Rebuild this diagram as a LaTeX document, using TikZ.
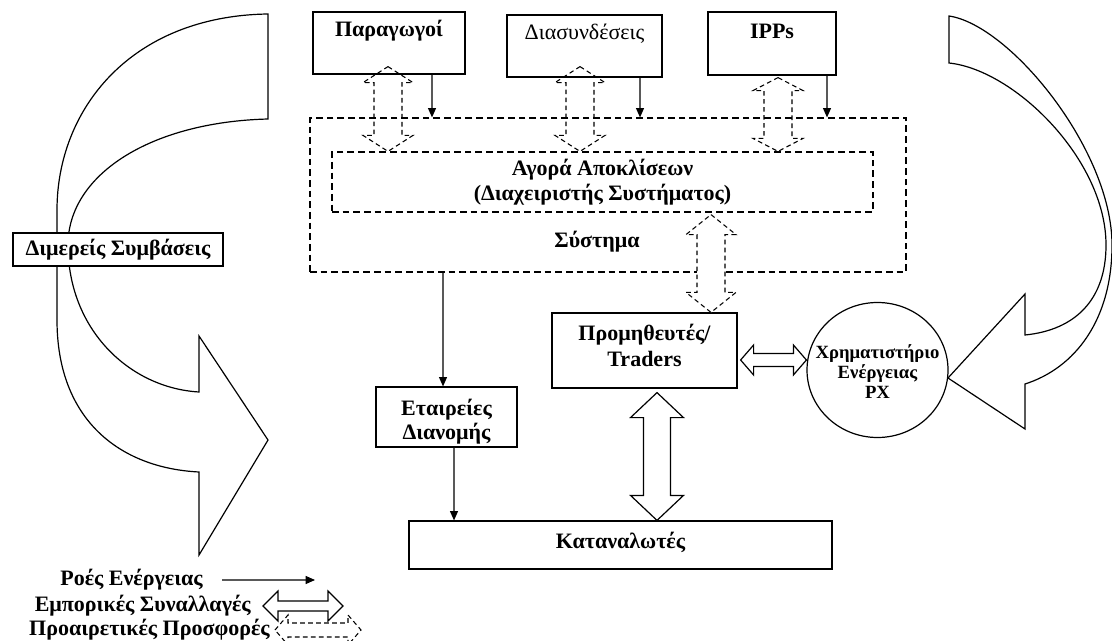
\documentclass[tikz,border=0pt]{standalone}
\usepackage{fontspec}
\setmainfont{Liberation Serif}
\usetikzlibrary{arrows.meta,shapes.geometric,calc,fit}

% vertical double block arrow: style, top tip, bottom tip, head length, head half-width, shaft half-width
\newcommand\vdbl[6]{%
  \draw[#1] (#2) -- ($(#2)+(#5,#4)$) -- ($(#2)+(#6,#4)$) -- ($(#3)+(#6,-#4)$) -- ($(#3)+(#5,-#4)$) -- (#3)
    -- ($(#3)+(-#5,-#4)$) -- ($(#3)+(-#6,-#4)$) -- ($(#2)+(-#6,#4)$) -- ($(#2)+(-#5,#4)$) -- cycle;}
% horizontal double block arrow: style, left tip, right tip, head length, head half-width, shaft half-width
\newcommand\hdbl[6]{%
  \draw[#1] (#2) -- ($(#2)+(#4,-#5)$) -- ($(#2)+(#4,-#6)$) -- ($(#3)+(-#4,-#6)$) -- ($(#3)+(-#4,-#5)$) -- (#3)
    -- ($(#3)+(-#4,#5)$) -- ($(#3)+(-#4,#6)$) -- ($(#2)+(#4,#6)$) -- ($(#2)+(#4,#5)$) -- cycle;}

\begin{document}
\begin{tikzpicture}[x=0.75pt,y=-0.75pt,
  box/.style={draw, line width=0.9pt, inner sep=0pt, fill=white},
  dbox/.style={draw, line width=0.9pt, inner sep=0pt, dash pattern=on 5pt off 3pt},
  txt/.style={font=\bfseries\fontsize{16.5}{19}\selectfont, inner sep=0pt, align=center},
  flow/.style={draw=black!65, line width=0.8pt, -{Triangle[length=7pt,width=6pt,color=black]}},
  blk/.style={draw, line width=0.9pt, fill=white, line join=miter},
  dblk/.style={draw, line width=0.8pt, dash pattern=on 3.5pt off 2.5pt},
  bigarrow/.style={draw, line width=0.9pt, fill=white}]
\useasboundingbox (0,0) rectangle (1112,641);

% curved arrow of the bilateral contracts (left)
\path[bigarrow] (268,14) .. controls (130,16) and (57,110) .. (57,210) -- (57,320)
  .. controls (57,420) and (120,468) .. (199,472) -- (199,555) -- (268,440) -- (199,336) -- (199,392)
  .. controls (130,388) and (68,330) .. (68,245) .. controls (68,175) and (150,122) .. (268,119) -- cycle;

% curved arrow towards the power exchange (right)
\path[bigarrow] (949,16) .. controls (1010,25) and (1112,150) .. (1112,245)
  .. controls (1112,320) and (1075,368) .. (1025,384) -- (1025,429) -- (948,378) -- (1025,294) -- (1025,335)
  .. controls (1075,330) and (1106,300) .. (1106,245) .. controls (1106,160) and (1015,70) .. (949,63) -- cycle;

% top row
\node[box, fit={(313,12) (465,74)}] (prod) {};
\node[txt] (prodt) at (389,31) {Παραγωγοί};
\node[box, fit={(507,15) (662,77)}] (inter) {};
\node[txt, font=\fontsize{16.5}{19}\selectfont] (intert) at (584.5,34) {Διασυνδέσεις};
\node[box, fit={(708,12) (836,75)}] (ipp) {};
\node[txt] (ippt) at (772,31) {IPPs};

% system and balancing market
\node[dbox, fit={(310,118) (906,272)}] (sys) {};
\node[dbox, fit={(332,152) (873,212)}] (bal) {};
\node[txt, font=\bfseries\fontsize{16.5}{18.75}\selectfont] (balt) at (602.5,182.5) {Αγορά Αποκλίσεων\\(Διαχειριστής Συστήματος)};
\node[txt] (syst) at (597,242) {Σύστημα};

% lower part
\node[box, fit={(552,313) (737,388)}] (supp) {};
\node[txt, font=\bfseries\fontsize{16.5}{19.5}\selectfont] (suppt) at (644.5,345) {Προμηθευτές/\\Traders};
\node[box, fit={(376,387) (517,447)}] (dist) {};
\node[txt, font=\bfseries\fontsize{16.5}{17.5}\selectfont] (distt) at (446.5,421.5) {Εταιρείες\\Διανομής};
\node[box, fit={(409,521) (832,569)}] (cons) {};
\node[txt] (const) at (620.5,542) {Καταναλωτές};
\node[draw, ellipse, minimum width=105.75pt, minimum height=101.25pt, inner sep=0pt, line width=0.9pt, fill=white] (px) at (877.5,370) {};
\node[txt, font=\bfseries\fontsize{14}{15}\selectfont] (pxt) at (877.5,372) {Χρηματιστήριο\\Ενέργειας\\PX};
\node[box, fit={(13,233) (223,266)}] (bil) {};
\node[txt] (bilt) at (118,250) {Διμερείς Συμβάσεις};

% energy flows
\coordinate (f1) at ($(prod.south)+(43,0)$);
\draw[flow] (f1) -- (f1 |- sys.north);
\coordinate (f2) at ($(inter.south)+(55.5,0)$);
\draw[flow] (f2) -- (f2 |- sys.north);
\coordinate (f3) at ($(ipp.south)+(55,0)$);
\draw[flow] (f3) -- (f3 |- sys.north);
\coordinate (f4) at ($(dist.north)+(-3.5,0)$);
\draw[flow] (f4 |- sys.south) -- (f4);
\coordinate (f5) at ($(dist.south)+(7.5,0)$);
\draw[flow] (f5) -- (f5 |- cons.north);

% optional offers
\coordinate (d1a) at ($(prod.south)+(-1,-8)$);  \coordinate (d1b) at (d1a |- bal.north);
\vdbl{dblk}{d1a}{d1b}{16}{25}{14}
\coordinate (d2a) at ($(inter.south)+(-4.5,-11)$);  \coordinate (d2b) at (d2a |- bal.north);
\vdbl{dblk}{d2a}{d2b}{16}{25}{14}
\coordinate (d3a) at ($(ipp.south)+(6,2)$);  \coordinate (d3b) at (d3a |- bal.north);
\vdbl{dblk}{d3a}{d3b}{13}{25}{14}
\coordinate (d4a) at ($(bal.south)+(108.5,2)$);  \coordinate (d4b) at (d4a |- supp.north);
\vdbl{dblk,fill=white}{d4a}{d4b}{20}{25}{14}

% commercial transactions
\coordinate (s1a) at ($(supp.south)+(12.5,4)$);  \coordinate (s1b) at (s1a |- cons.north);
\vdbl{blk}{s1a}{s1b}{25}{26.5}{13.5}
\coordinate (s2a) at ($(supp.east)+(3,9.5)$);  \coordinate (s2b) at (s2a -| px.west);
\hdbl{blk}{s2a}{s2b}{13}{15}{6.5}

% legend
\node[txt, anchor=east] (lg1) at (203,580) {Ροές Ενέργειας};
\coordinate (lg1a) at ($(lg1.east)+(19,0)$);  \coordinate (lg1b) at ($(lg1.east)+(112,0)$);
\draw[flow] (lg1a) -- (lg1b);
\node[txt, anchor=east] (lg2) at (251,606) {Εμπορικές Συναλλαγές};
\coordinate (lg2a) at ($(lg2.east)+(12,0)$);  \coordinate (lg2b) at ($(lg2.east)+(92,0)$);
\hdbl{blk}{lg2a}{lg2b}{15}{15}{5}
\node[txt, anchor=east] (lg3) at (270,630) {Προαιρετικές Προσφορές};
\coordinate (lg3a) at ($(lg3.east)+(5,0)$);  \coordinate (lg3b) at ($(lg3.east)+(91,0)$);
\hdbl{dblk}{lg3a}{lg3b}{13}{15}{7}
\end{tikzpicture}
\end{document}
